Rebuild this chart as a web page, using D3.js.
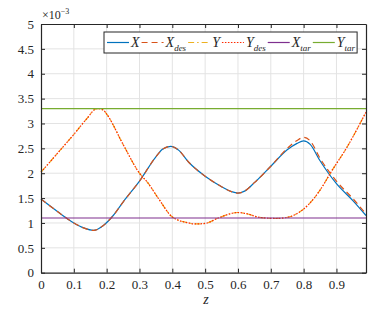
<!DOCTYPE html>
<html>
<head>
<meta charset="utf-8">
<script src="https://cdn.jsdelivr.net/npm/d3@7"></script>
<style>
  body { margin: 0; background: #fff; }
  svg { display: block; }
  svg text { font-family: "Liberation Serif", "DejaVu Serif", serif; }
</style>
</head>
<body>
<svg id="chart"></svg>
<script>
// data (values in units of 1e-3)
let zX = [0, 0.05, 0.1, 0.13, 0.16, 0.19, 0.22, 0.25, 0.3, 0.35, 0.37, 0.395, 0.42, 0.45, 0.5, 0.55, 0.58, 0.6, 0.62, 0.65, 0.7, 0.75, 0.78, 0.8, 0.82, 0.85, 0.9, 0.95, 0.99]
let xVals = [1.48, 1.23, 1.0, 0.9, 0.85, 0.95, 1.15, 1.42, 1.84, 2.33, 2.48, 2.54, 2.46, 2.22, 1.94, 1.73, 1.63, 1.6, 1.64, 1.81, 2.14, 2.47, 2.6, 2.65, 2.58, 2.25, 1.79, 1.45, 1.15]
let xDesVals = [1.48, 1.23, 1.0, 0.9, 0.85, 0.95, 1.15, 1.42, 1.84, 2.33, 2.48, 2.54, 2.46, 2.22, 1.94, 1.73, 1.63, 1.6, 1.64, 1.81, 2.14, 2.5, 2.66, 2.72, 2.65, 2.3, 1.84, 1.49, 1.18]

let zY = [0, 0.05, 0.1, 0.14, 0.17, 0.19, 0.2, 0.25, 0.3, 0.325, 0.36, 0.4, 0.45, 0.47, 0.5, 0.54, 0.6, 0.63, 0.66, 0.715, 0.755, 0.785, 0.815, 0.85, 0.885, 0.93, 0.99]
let yVals = [2.02, 2.4, 2.78, 3.1, 3.3, 3.27, 3.19, 2.58, 2.0, 1.81, 1.47, 1.12, 1.0, 0.98, 0.99, 1.1, 1.21, 1.18, 1.12, 1.09, 1.12, 1.21, 1.37, 1.66, 2.04, 2.5, 3.23]
let yDesVals = [2.02, 2.4, 2.78, 3.1, 3.3, 3.27, 3.19, 2.58, 2.0, 1.81, 1.47, 1.12, 1.0, 0.98, 0.99, 1.1, 1.21, 1.18, 1.12, 1.09, 1.12, 1.21, 1.37, 1.66, 2.04, 2.5, 3.23]

let zTar = [0, 0.99]
let xTarVals = [1.1, 1.1]
let yTarVals = [3.3, 3.3]

let xTicks = [0, 0.1, 0.2, 0.3, 0.4, 0.5, 0.6, 0.7, 0.8, 0.9]
let yTicks = [0, 0.5, 1, 1.5, 2, 2.5, 3, 3.5, 4, 4.5, 5]

// canvas
let width = 382
let height = 313
let plotLeft = 41
let plotRight = 366
let plotTop = 24
let plotBottom = 272.7
let serif = '"Liberation Serif", "DejaVu Serif", serif'

let svg = d3.select('#chart').attr('width', width).attr('height', height)

let xScale = d3.scaleLinear().domain([0, 0.99]).range([plotLeft, plotRight])
let yScale = d3.scaleLinear().domain([0, 5]).range([plotBottom, plotTop])

// grid
svg.append('g').selectAll('line').data(xTicks.slice(1)).enter().append('line')
    .attr('x1', d => xScale(d)).attr('x2', d => xScale(d))
    .attr('y1', plotTop).attr('y2', plotBottom)
    .attr('stroke', '#e3e3e3').attr('stroke-width', 1)
svg.append('g').selectAll('line').data(yTicks.slice(1, -1)).enter().append('line')
    .attr('x1', plotLeft).attr('x2', plotRight)
    .attr('y1', d => yScale(d)).attr('y2', d => yScale(d))
    .attr('stroke', '#e3e3e3').attr('stroke-width', 1)

// series
let series = [
    {z: zX, v: xVals, color: '#0072BD', dash: null, label: 'X', sub: ''},
    {z: zX, v: xDesVals, color: '#D95319', dash: '6,4', label: 'X', sub: 'des'},
    {z: zY, v: yVals, color: '#EDB120', dash: '6,3,1.5,3', label: 'Y', sub: ''},
    {z: zY, v: yDesVals, color: '#FF2A00', dash: '1.5,1.5', label: 'Y', sub: 'des'},
    {z: zTar, v: xTarVals, color: '#7E2F8E', dash: null, label: 'X', sub: 'tar'},
    {z: zTar, v: yTarVals, color: '#77AC30', dash: null, label: 'Y', sub: 'tar'}
]

let line = d3.line()
    .x(d => xScale(d[0]))
    .y(d => yScale(d[1]))
    .curve(d3.curveMonotoneX)

series.forEach(s => {
    svg.append('path')
        .datum(s.z.map((z, i) => [z, s.v[i]]))
        .attr('d', line)
        .attr('fill', 'none')
        .attr('stroke', s.color)
        .attr('stroke-width', 1.2)
        .attr('stroke-dasharray', s.dash)
})

// axes (ticks inside, box)
let axisColor = '#262626'
let xAxis = d3.axisBottom(xScale).tickValues(xTicks).tickSizeInner(-4).tickSizeOuter(0).tickPadding(7)
    .tickFormat(d => d === 0 ? '0' : d3.format('.1f')(d))
let yAxis = d3.axisLeft(yScale).tickValues(yTicks).tickSizeInner(-4).tickSizeOuter(0).tickPadding(7)
    .tickFormat(d => Number.isInteger(d) ? d : d3.format('.1f')(d))
let xTop = d3.axisTop(xScale).tickValues(xTicks).tickSizeInner(-4).tickSizeOuter(0).tickFormat('')
let yRight = d3.axisRight(yScale).tickValues(yTicks).tickSizeInner(-4).tickSizeOuter(0).tickFormat('')

let styleAxis = g => {
    g.attr('font-family', serif).attr('font-size', 13)
    g.selectAll('path, line').attr('stroke', axisColor)
    g.select('path').attr('stroke-width', 1.2)
    g.selectAll('text').attr('fill', axisColor)
}

svg.append('g').attr('transform', 'translate(0,' + plotBottom + ')').call(xAxis).call(styleAxis)
svg.append('g').attr('transform', 'translate(' + plotLeft + ',0)').call(yAxis).call(styleAxis)
svg.append('g').attr('transform', 'translate(0,' + plotTop + ')').call(xTop).call(styleAxis)
svg.append('g').attr('transform', 'translate(' + plotRight + ',0)').call(yRight).call(styleAxis)

// exponent label
let expo = svg.append('text').attr('x', 42).attr('y', 19)
    .attr('fill', axisColor).attr('font-family', serif).attr('font-size', 12)
expo.append('tspan').text('×10')
expo.append('tspan').attr('dy', -5).attr('font-size', 8).text('−3')

// x label
svg.append('text').attr('x', 206).attr('y', 304)
    .attr('text-anchor', 'middle').attr('fill', axisColor)
    .attr('font-family', serif).attr('font-size', 14).attr('font-style', 'italic').text('z')

// legend
let legX = 104
let legY = 32
let legH = 21
let legend = svg.append('g')
let box = legend.append('rect').attr('x', legX).attr('y', legY).attr('height', legH)
    .attr('fill', '#fff').attr('stroke', axisColor).attr('stroke-width', 1)

let cx = legX + 3
let midY = legY + legH / 2
series.forEach(s => {
    legend.append('line')
        .attr('x1', cx).attr('x2', cx + 22)
        .attr('y1', midY).attr('y2', midY)
        .attr('stroke', s.color).attr('stroke-width', 1.2)
        .attr('stroke-dasharray', s.dash)
    cx += 24
    let t = legend.append('text').attr('x', cx).attr('y', midY + 4.5)
        .attr('fill', axisColor).attr('font-family', serif)
        .attr('font-style', 'italic').attr('font-size', 14)
    t.append('tspan').text(s.label)
    if (s.sub) {
        t.append('tspan').attr('dy', 4).attr('font-size', 9).text(s.sub)
    }
    cx += t.node().getComputedTextLength() + 2
})
box.attr('width', cx - legX)
</script>
</body>
</html>
